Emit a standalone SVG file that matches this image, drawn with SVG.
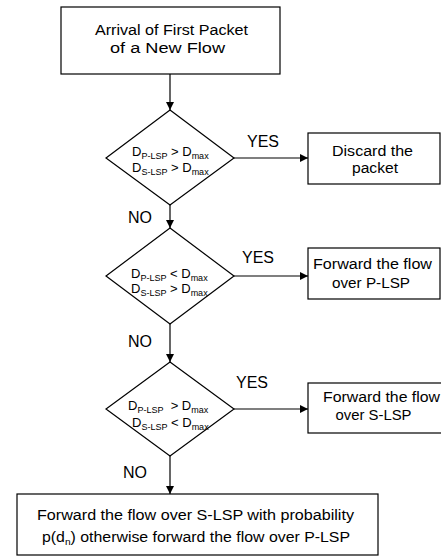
<svg xmlns="http://www.w3.org/2000/svg" width="441" height="560" viewBox="0 0 441 560">
<defs>
<marker id="ah" viewBox="0 0 10 10" refX="10" refY="5" markerWidth="9" markerHeight="8" markerUnits="userSpaceOnUse" orient="auto">
<path d="M0,0 L10,5 L0,10 Z" fill="#000"/>
</marker>
<style>
.box{fill:#fff;stroke:#000;stroke-width:1.2}
.t{font-family:"Liberation Sans",Arial,sans-serif;font-size:14px;fill:#000;text-anchor:middle}
.d{font-family:"Liberation Sans",Arial,sans-serif;font-size:13px;fill:#000}
.s{font-size:9px}
.l{font-family:"Liberation Sans",Arial,sans-serif;font-size:16px;fill:#000}
.c{fill:none;stroke:#000;stroke-width:1.2}
</style>
</defs>
<rect width="441" height="560" fill="#fff"/>
<g id="connectors">
<line class="c" x1="170" y1="74" x2="170" y2="110" marker-end="url(#ah)"/>
<line class="c" x1="170" y1="205" x2="170" y2="228" marker-end="url(#ah)"/>
<line class="c" x1="170" y1="324" x2="170" y2="362" marker-end="url(#ah)"/>
<line class="c" x1="170" y1="456" x2="170" y2="494" marker-end="url(#ah)"/>
<line class="c" x1="234" y1="158" x2="308" y2="158" marker-end="url(#ah)"/>
<line class="c" x1="234" y1="276" x2="308" y2="276" marker-end="url(#ah)"/>
<line class="c" x1="234" y1="409" x2="308" y2="409" marker-end="url(#ah)"/>
<text class="l" x="247" y="147">YES</text>
<text class="l" x="242" y="263">YES</text>
<text class="l" x="236" y="388">YES</text>
<text class="l" x="128" y="223">NO</text>
<text class="l" x="128" y="347">NO</text>
<text class="l" x="123" y="478">NO</text>
</g>
<g id="start">
<rect class="box" x="61" y="7" width="219" height="67"/>
<text class="t" x="171.5" y="35" textLength="153" lengthAdjust="spacingAndGlyphs">Arrival of First Packet</text>
<text class="t" x="167.5" y="53" textLength="115" lengthAdjust="spacingAndGlyphs">of a New Flow</text>
</g>
<g id="decision1">
<polygon class="box" points="170,110 234,158 170,205 106,158"/>
<text class="d" x="132" y="156">D<tspan class="s" dy="3">P-LSP</tspan><tspan dy="-3"> &gt; D</tspan><tspan class="s" dy="3">max</tspan></text>
<text class="d" x="132" y="172">D<tspan class="s" dy="3">S-LSP</tspan><tspan dy="-3"> &gt; D</tspan><tspan class="s" dy="3">max</tspan></text>
</g>
<g id="discard">
<rect class="box" x="308" y="133" width="132" height="51"/>
<text class="t" x="372.5" y="156" textLength="81" lengthAdjust="spacingAndGlyphs">Discard the</text>
<text class="t" x="375" y="173" textLength="46" lengthAdjust="spacingAndGlyphs">packet</text>
</g>
<g id="decision2">
<polygon class="box" points="170,228 234,276 170,324 106,276"/>
<text class="d" x="131" y="278">D<tspan class="s" dy="3">P-LSP</tspan><tspan dy="-3"> &lt; D</tspan><tspan class="s" dy="3">max</tspan></text>
<text class="d" x="131" y="293">D<tspan class="s" dy="3">S-LSP</tspan><tspan dy="-3"> &gt; D</tspan><tspan class="s" dy="3">max</tspan></text>
</g>
<g id="forward-p">
<rect class="box" x="308" y="248" width="132" height="51"/>
<text class="t" x="372.5" y="269" textLength="119" lengthAdjust="spacingAndGlyphs">Forward the flow</text>
<text class="t" x="371" y="288" textLength="78" lengthAdjust="spacingAndGlyphs">over P-LSP</text>
</g>
<g id="decision3">
<polygon class="box" points="170,362 234,409 170,456 106,409"/>
<text class="d" x="128" y="410">D<tspan class="s" dy="3">P-LSP</tspan><tspan dy="-3">&#160; &gt; D</tspan><tspan class="s" dy="3">max</tspan></text>
<text class="d" x="132" y="427">D<tspan class="s" dy="3">S-LSP</tspan><tspan dy="-3"> &lt; D</tspan><tspan class="s" dy="3">max</tspan></text>
</g>
<g id="forward-s">
<rect class="box" x="308" y="383" width="145" height="50"/>
<text class="t" x="381.5" y="402" textLength="117" lengthAdjust="spacingAndGlyphs">Forward the flow</text>
<text class="t" x="373.5" y="420" textLength="76" lengthAdjust="spacingAndGlyphs">over S-LSP</text>
</g>
<g id="probabilistic">
<rect class="box" x="17" y="494" width="361" height="61"/>
<text class="t" x="195.5" y="520" textLength="317" lengthAdjust="spacingAndGlyphs">Forward the flow over S-LSP with probability</text>
<text class="t" x="196" y="542" textLength="308" lengthAdjust="spacingAndGlyphs">p(d<tspan class="s" dy="3">n</tspan><tspan dy="-3">) otherwise forward the flow over P-LSP</tspan></text>
</g>
</svg>
